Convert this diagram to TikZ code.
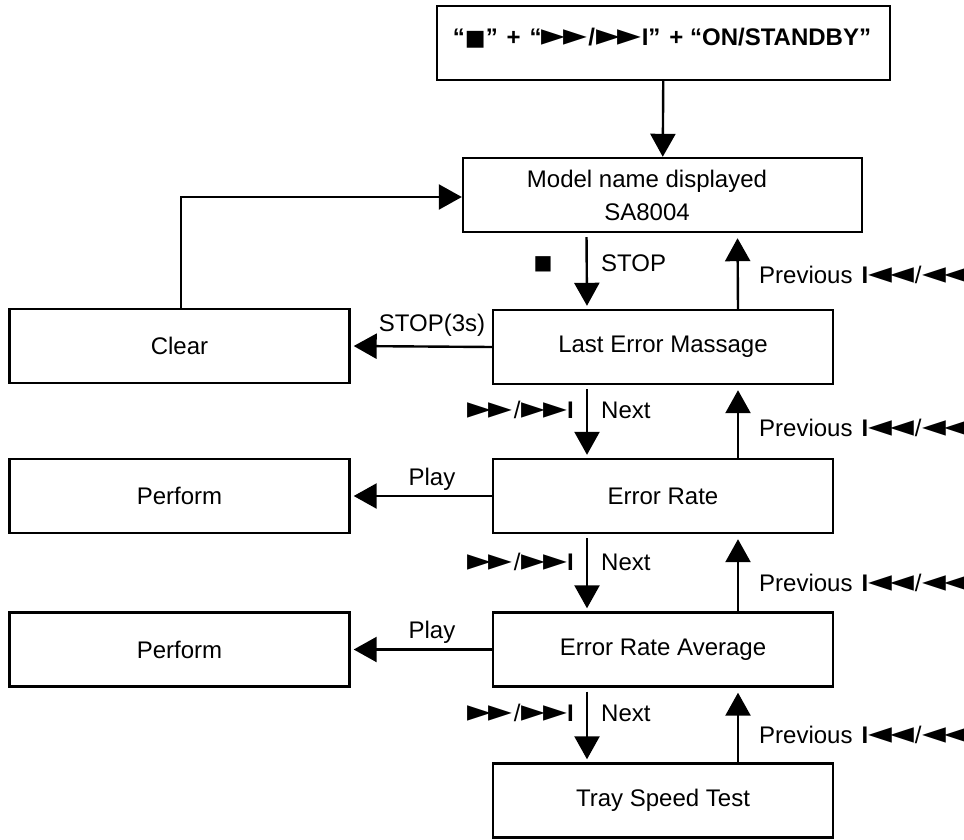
\documentclass[tikz,border=0pt]{standalone}
\usepackage{fontspec}
\setmainfont{Liberation Sans}
\newfontfamily\symf{DejaVu Sans}
\usetikzlibrary{arrows.meta}
\newcommand{\symsz}{\symf\fontsize{31}{31}\selectfont}
\newcommand{\ffwd}{{\symsz ►\kern-2pt►}\kern1pt/\kern1pt{\symsz ►\kern-2pt►}{\bfseries I}}
\newcommand{\rwnd}{{\bfseries I}{\symsz ◄\kern-2pt◄}\kern1pt/\kern1pt{\symsz ◄\kern-2pt◄}}
\newcommand{\stopsq}{{\symf\fontsize{22}{24}\selectfont ■}}
\tikzset{
  x=1pt, y=-1pt,
  every node/.style={font=\fontsize{24}{33}\selectfont},
  box/.style={draw, line width=2.4pt, rectangle, minimum height=74pt, align=center, inner sep=0pt},
  wide/.style={box, minimum width=340pt},
  conn/.style={line width=2.4pt, -{Triangle[length=23pt,width=25pt]}},
  lbl/.style={inner sep=0pt},
}
\begin{document}
\begin{tikzpicture}
\useasboundingbox (0,0) rectangle (964,840);
% boxes
\node[box, minimum width=453pt, minimum height=74pt] (top) at (663.5,43) {};
\node[lbl, font=\fontsize{24}{33}\selectfont\bfseries] (toptext) at (662,38) {“\stopsq”\hspace{9pt}+\hspace{9pt}“\ffwd”\hspace{9pt}+ “ON/STANDBY”};
\node[box, minimum width=399pt] (model) at (662.5,195) {};
\node[lbl, align=center] (modeltext) at (647,195) {Model name displayed\\SA8004};
\node[wide] (lem) at (663,347) {Last Error Massage};
\node[wide] (clear) at (179.5,346) {Clear};
\node[wide] (er) at (663,496) {Error Rate};
\node[wide] (p1) at (179.5,496) {Perform};
\node[wide] (era) at (663,649.5) {Error Rate Average};
\node[wide] (p2) at (179.5,649.5) {Perform};
\node[wide] (tray) at (663,800.5) {Tray Speed Test};
% connectors
\draw[conn] (top) -- (model);
\coordinate (cc) at (181,197);
\draw[conn] ([xshift=1.5pt]clear.north) |- (model.west |- cc);
\draw[conn, shorten >=3pt] (lem.west) -- (clear.east);
\draw[conn, shorten >=3pt] (er.west) -- (p1.east);
\draw[conn, shorten >=3pt] (era.west) -- (p2.east);
\draw[conn, shorten <=4pt, shorten >=3pt] ([xshift=-76pt]model.south) -- ([xshift=-76pt]lem.north);
\draw[conn, shorten <=4pt, shorten >=3pt] ([xshift=-76pt]lem.south) -- ([xshift=-76pt]er.north);
\draw[conn, shorten <=4pt, shorten >=3pt] ([xshift=-76pt]er.south) -- ([xshift=-76pt]era.north);
\draw[conn, shorten <=4pt, shorten >=3pt] ([xshift=-76pt]era.south) -- ([xshift=-76pt]tray.north);
\draw[conn, shorten >=5pt] ([xshift=75pt]lem.north) -- ([xshift=75pt]model.south);
\draw[conn, shorten >=5pt] ([xshift=75pt]er.north) -- ([xshift=75pt]lem.south);
\draw[conn, shorten >=5pt] ([xshift=75pt]era.north) -- ([xshift=75pt]er.south);
\draw[conn, shorten >=5pt] ([xshift=75pt]tray.north) -- ([xshift=75pt]era.south);
% labels
\node[lbl] (stopsym) at (543,264) {{\symf\fontsize{20}{24}\selectfont ■}};
\node[lbl, anchor=west] (stoplbl) at (601,263) {STOP};
\node[lbl] (stop3) at (432,325) {STOP(3s)};
\node[lbl] (play1) at (432,479) {Play};
\node[lbl] (play2) at (432,632) {Play};
\node[lbl, anchor=west] (prev1) at (759,275) {Previous\hspace{9pt}\rwnd};
\node[lbl, anchor=west] (prev2) at (759,428) {Previous\hspace{9pt}\rwnd};
\node[lbl, anchor=west] (prev3) at (759,583) {Previous\hspace{9pt}\rwnd};
\node[lbl, anchor=west] (prev4) at (759,735) {Previous\hspace{9pt}\rwnd};
\node[lbl, anchor=west] (next1) at (601,410) {Next};
\node[lbl, anchor=west] (next2) at (601,562) {Next};
\node[lbl, anchor=west] (next3) at (601,713) {Next};
\node[lbl, anchor=east] (ff1) at (574,410) {\ffwd};
\node[lbl, anchor=east] (ff2) at (574,562) {\ffwd};
\node[lbl, anchor=east] (ff3) at (574,713) {\ffwd};
\end{tikzpicture}
\end{document}
